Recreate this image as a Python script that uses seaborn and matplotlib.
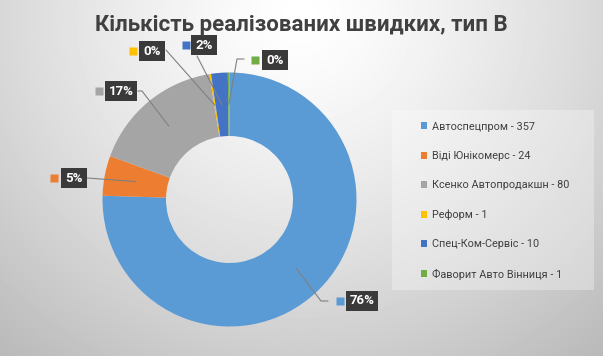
import matplotlib
matplotlib.use("Agg")
import matplotlib.pyplot as plt
import numpy as np
import seaborn as sns
from matplotlib.patches import Rectangle

# data
companies = ["Автоспецпром", "Віді Юнікомерс", "Ксенко Автопродакшн",
             "Реформ", "Спец-Ком-Сервіс", "Фаворит Авто Вінниця"]
counts = [357, 24, 80, 1, 10, 1]
pct_labels = ["76%", "5%", "17%", "0%", "2%", "0%"]
colors = ["#5B9BD5", "#ED7D31", "#A5A5A5", "#FFC000", "#4472C4", "#70AD47"]
title = "Кількість реалізованих швидких, тип В"

# label layout in figure pixels: square, box centre, leader path points
W, H = 603, 356
CX, CY, R = 229.5, 199.5, 127.0
label_layout = [
    dict(sq=(340, 301), box=(362, 301), path=[(328, 301), (321, 301)]),
    dict(sq=(54, 178), box=(74, 178), path=[(87, 178)]),
    dict(sq=(99, 91), box=(121, 91), path=[(138, 91), (142, 91)]),
    dict(sq=(133, 51), box=(152, 51), path=[(166, 50)]),
    dict(sq=(186, 45), box=(204, 45), path=[(197, 56)]),
    dict(sq=(255, 60), box=(275, 60), path=[(244, 59), (237, 59)]),
]


def to_data(px, py):
    return (px - CX) / R, (CY - py) / R


sns.set_theme(style="white")
plt.rcParams["font.family"] = ["Roboto", "DejaVu Sans"]

fig = plt.figure(figsize=(W / 100, H / 100), dpi=100)

# radial grey background
bg = fig.add_axes([0, 0, 1, 1], zorder=0)
yy, xx = np.mgrid[0:H, 0:W]
d = np.sqrt(((xx - 300) / 350.0) ** 2 + ((yy - 15) / 330.0) ** 2)
shade = np.clip(255 - 48 * d ** 1.3, 0, 255) / 255.0
bg.imshow(shade, cmap="gray", vmin=0, vmax=1, aspect="auto", interpolation="bilinear")
bg.axis("off")

# legend panel
fig.patches.append(Rectangle((392 / W, 1 - 290 / H), 202 / W, 180 / H,
                             transform=fig.transFigure, facecolor="white",
                             alpha=0.3, edgecolor="none", zorder=1))

ax = fig.add_axes([(CX - R) / W, (H - CY - R) / H, 2 * R / W, 2 * R / H], zorder=2)
wedges, _ = ax.pie(counts, colors=colors, startangle=90, counterclock=False,
                   radius=1.0, wedgeprops=dict(width=0.5, edgecolor="none"))
ax.set_xlim(-1, 1)
ax.set_ylim(-1, 1)
ax.set_aspect("equal")
ax.axis("off")

for w, lab, col, lay in zip(wedges, pct_labels, colors, label_layout):
    mid = np.deg2rad((w.theta1 + w.theta2) / 2)
    tip = (0.75 * np.cos(mid), 0.75 * np.sin(mid))
    pts = [to_data(*p) for p in lay["path"]] + [tip]
    ax.plot([p[0] for p in pts], [p[1] for p in pts], color="#808080", lw=0.8,
            zorder=3, clip_on=False)
    sx, sy = to_data(*lay["sq"])
    ax.plot(sx, sy, marker="s", ms=5.5, color=col, mec="none", clip_on=False, zorder=4)
    bx, by = to_data(*lay["box"])
    ax.text(bx, by, lab, color="white", fontsize=9.5,
            fontweight="bold", ha="center", va="center", zorder=5, clip_on=False,
            bbox=dict(boxstyle="square,pad=0.3", facecolor="#3a3a3a", edgecolor="none"))

fig.legend(wedges, [f"{n} - {c}" for n, c in zip(companies, counts)],
           loc="upper left", bbox_to_anchor=(411 / W, 1 - 112 / H),
           frameon=False, fontsize=7.8, labelspacing=1.78,
           handlelength=0.6, handleheight=0.6, handletextpad=0.4,
           labelcolor="#404040")

fig.text(0.5, 1 - 25 / H, title, ha="center", va="center", fontsize=16,
         fontweight="bold", color="#404040")

fig.savefig("out.png", dpi=100)
